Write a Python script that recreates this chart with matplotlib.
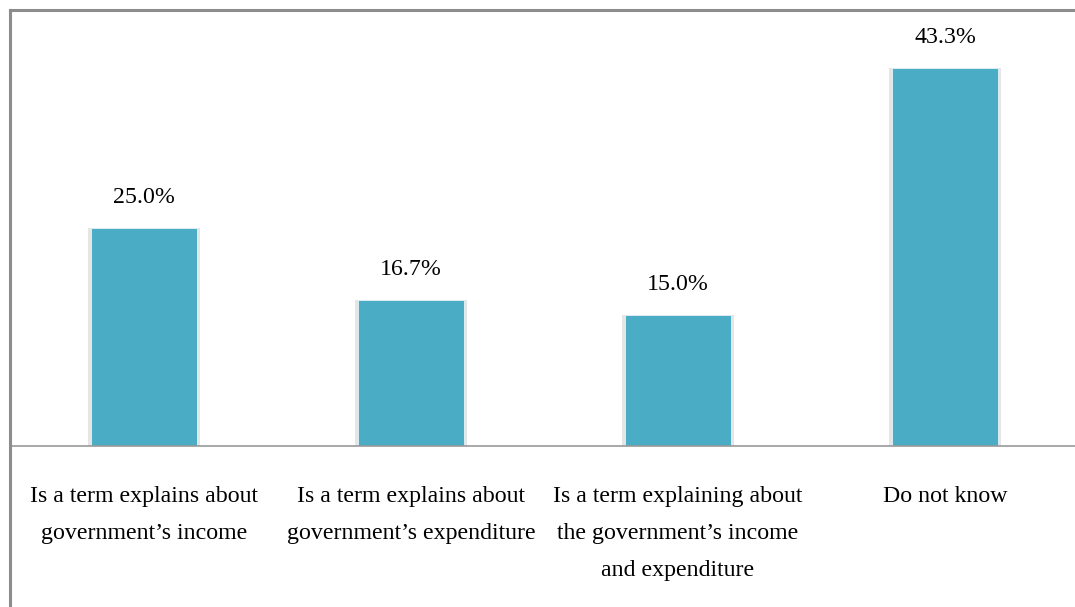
import matplotlib
matplotlib.use("Agg")
import matplotlib.pyplot as plt
from matplotlib.lines import Line2D

categories = [
    "Is a term explains about\ngovernment\u2019s income",
    "Is a term explains about\ngovernment\u2019s expenditure",
    "Is a term explaining about\nthe government\u2019s income\nand expenditure",
    "Do not know",
]
values = [25.0, 16.7, 15.0, 43.3]
value_labels = ["25.0%", "16.7%", "15.0%", "43.3%"]

BAR_COLOR = "#4BACC6"
plt.rcParams["font.family"] = ["Liberation Serif", "DejaVu Serif"]

fig = plt.figure(figsize=(10.75, 6.07), dpi=100)
W, H = 1075, 607
ax = fig.add_axes([10.5 / W, 1 - 446 / H, 1068 / W, 436 / H])

x = list(range(len(values)))
# soft shadow behind each bar
ax.bar(x, values, width=0.418, color="#d4d4d4", alpha=0.6, zorder=1)
ax.bar(x, values, width=0.40, color=BAR_COLOR, edgecolor="#e8f4f8",
       linewidth=0.6, zorder=2)

for xi, v, lab in zip(x, values, value_labels):
    ax.annotate(lab, (xi, v), xytext=(0, 22), textcoords="offset points",
                ha="center", va="center", fontsize=17.2, color="black")

ax.set_xlim(-0.5, 3.5)
ax.set_ylim(0, 50)
ax.set_yticks([])
ax.set_xticks(x)
ax.set_xticklabels(categories, fontsize=17.2, linespacing=2.0)
ax.tick_params(axis="x", length=0, pad=29)
for s in ["top", "right", "left"]:
    ax.spines[s].set_visible(False)
ax.spines["bottom"].set_color("#999999")
ax.spines["bottom"].set_linewidth(1.2)

# outer frame along the top and left edges
fig.add_artist(Line2D([10 / W, 1.01], [1 - 9.5 / H, 1 - 9.5 / H],
                      transform=fig.transFigure, color="#8c8c8c", lw=2.2))
fig.add_artist(Line2D([10 / W, 10 / W], [1 - 9.5 / H, -0.01],
                      transform=fig.transFigure, color="#8c8c8c", lw=2.2))

fig.savefig("out.png", dpi=100)
